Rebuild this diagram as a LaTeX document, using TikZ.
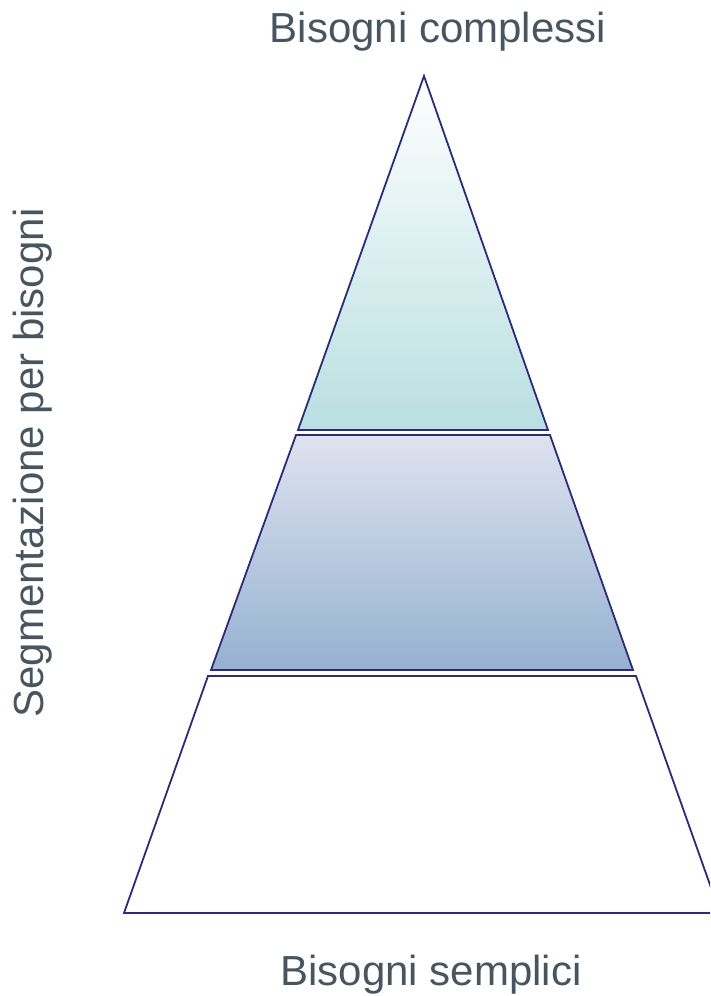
\documentclass[tikz,border=0pt]{standalone}
\usepackage{fontspec}
\setmainfont{Liberation Sans}
\definecolor{edge}{RGB}{42,42,128}
\definecolor{txt}{RGB}{70,85,95}
\definecolor{tealbot}{RGB}{184,223,224}
\definecolor{bluetop}{RGB}{222,227,238}
\definecolor{bluebot}{RGB}{149,177,208}
\tikzset{
  tier/.style={draw=edge, line width=1.8pt, line join=miter},
  lbl/.style={text=txt, font=\fontsize{42}{50}\selectfont, inner sep=0pt, anchor=base}
}
\begin{document}
\begin{tikzpicture}[x=1pt,y=-1pt]
\useasboundingbox (0,0) rectangle (710,996);
\begin{scope}
\clip (0,0) rectangle (710,996);
\shade[tier, top color=white, bottom color=tealbot] (424,76) -- (548,430) -- (298,430) -- cycle;
\shade[tier, top color=bluetop, bottom color=bluebot] (296,435) -- (550,435) -- (633,670) -- (211,670) -- cycle;
\draw[tier, fill=white] (208,676) -- (636,676) -- (720,913) -- (124,913) -- cycle;
\end{scope}
\node[lbl] (top) at (438,42) {Bisogni complessi};
\node[lbl] (bot) at (431,985) {Bisogni semplici};
\node[lbl, rotate=90] (side) at (43,463) {Segmentazione per bisogni};
\end{tikzpicture}
\end{document}
